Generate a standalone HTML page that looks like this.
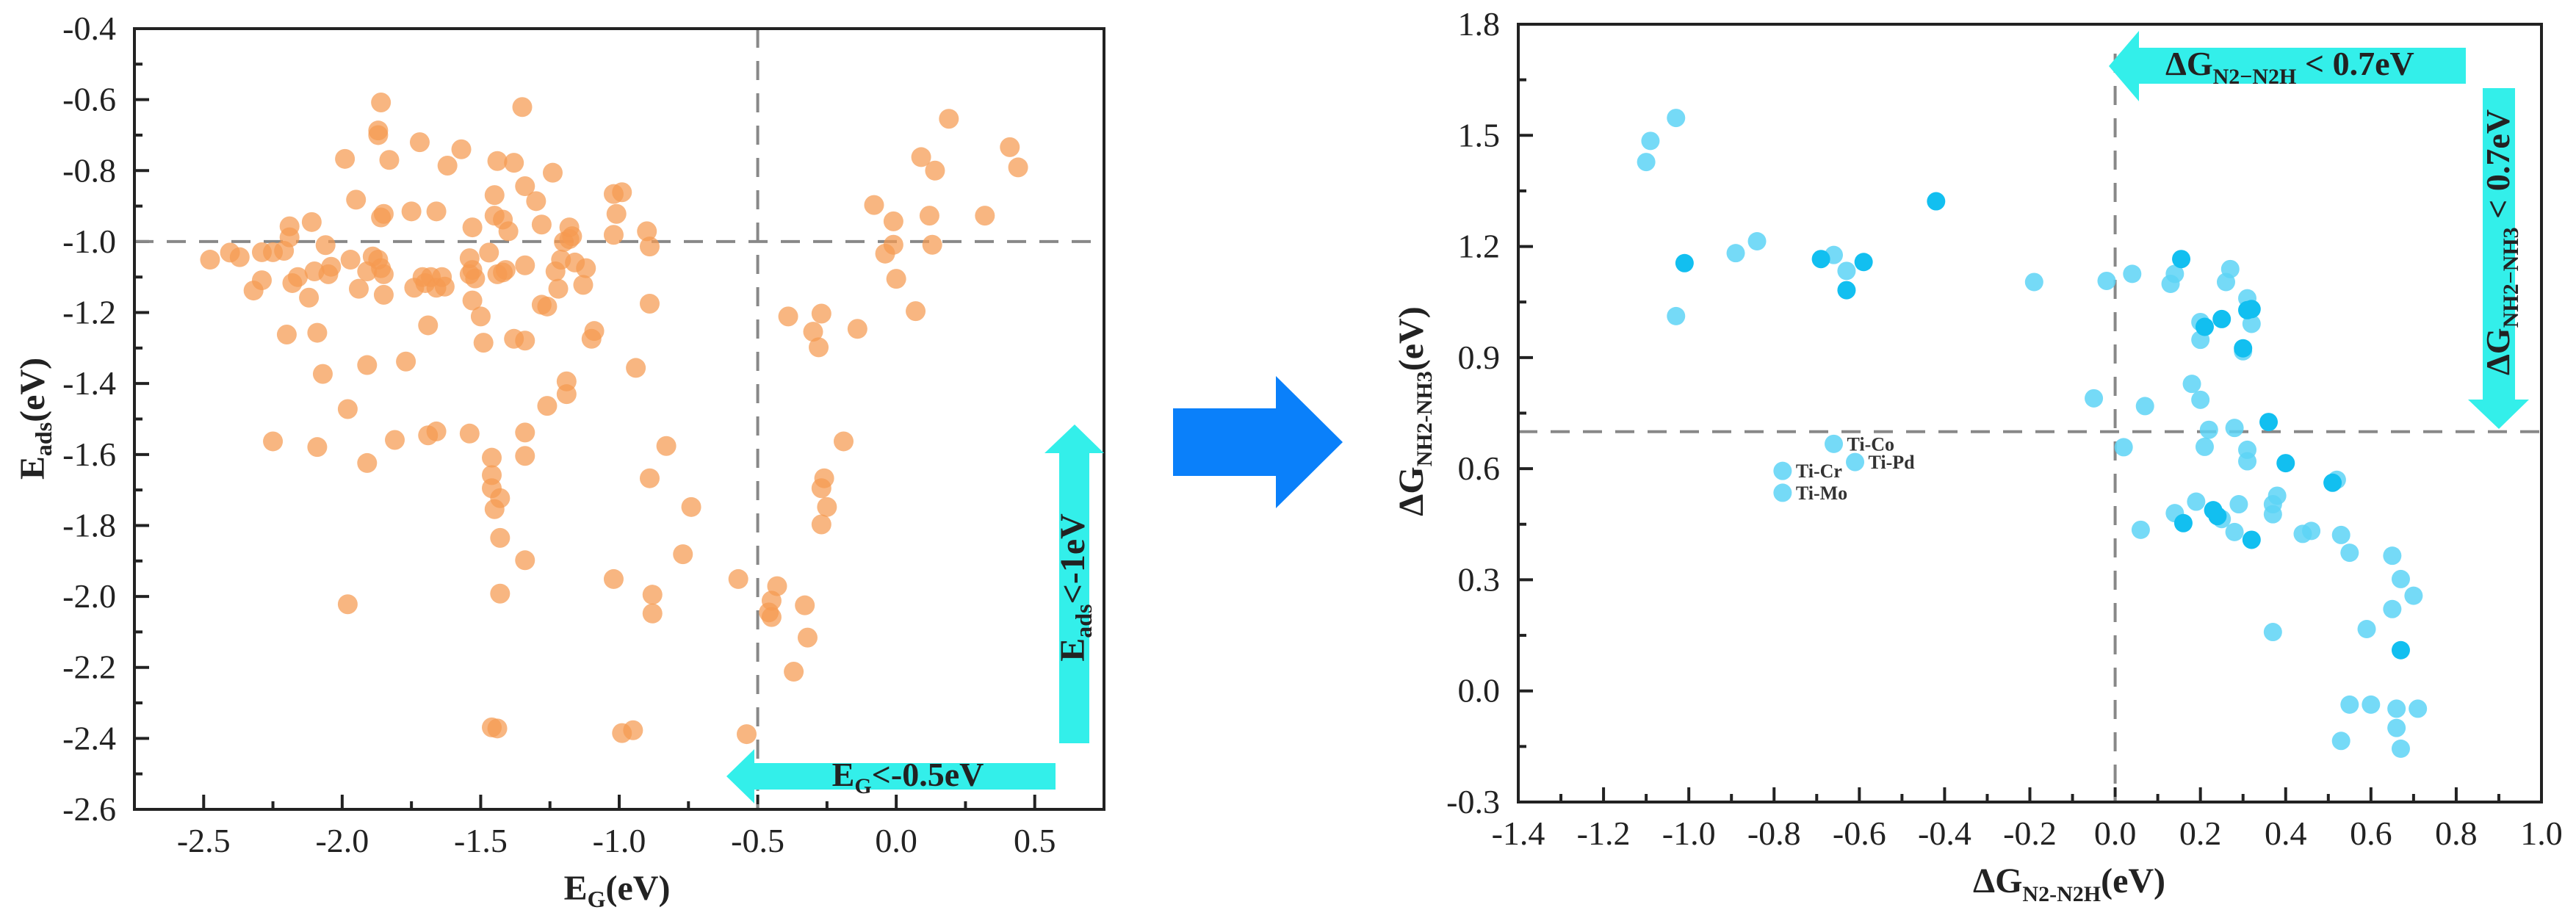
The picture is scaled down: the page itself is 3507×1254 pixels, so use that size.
<!DOCTYPE html>
<html><head><meta charset="utf-8"><style>
html,body{margin:0;padding:0;background:#fff;}
svg{display:block;font-family:"Liberation Serif","Times New Roman",serif;}
</style></head><body>
<svg id="s" width="3507" height="1254" viewBox="0 0 3507 1254" xmlns="http://www.w3.org/2000/svg" font-family="Liberation Serif, serif">
<g id="left"></g>
<g id="right"></g>
<polygon points="1597,556 1737,556 1737,512 1828,602 1737,692 1737,648 1597,648" fill="#0a80fa"/>
</svg>
<script>
// ---- left chart data ----
const leftX = [-2.477,-2.405,-2.37,-2.29,-2.25,-2.21,-2.19,-2.19,-2.11,-2.06,-2.29,-2.32,-2.18,-2.16,-2.12,-2.10,-2.05,-2.04,-2.20,-2.25,-2.09,-2.07,-2.09,-1.99,-1.95,-1.97,-1.94,-1.91,-1.89,-1.87,-1.86,-1.85,-1.85,-1.86,-1.87,-1.87,-1.83,-1.86,-1.85,-1.91,-1.98,-1.91,-1.98,-1.81,-1.77,-1.75,-1.72,-1.74,-1.71,-1.70,-1.68,-1.66,-1.64,-1.63,-1.69,-1.69,-1.66,-1.66,-1.62,-1.57,-1.53,-1.54,-1.54,-1.53,-1.52,-1.53,-1.50,-1.49,-1.54,-1.47,-1.45,-1.44,-1.45,-1.42,-1.40,-1.44,-1.41,-1.42,-1.38,-1.35,-1.34,-1.30,-1.28,-1.34,-1.38,-1.34,-1.34,-1.34,-1.46,-1.46,-1.46,-1.43,-1.45,-1.43,-1.34,-1.43,-1.46,-1.44,-1.24,-1.23,-1.22,-1.28,-1.26,-1.26,-1.20,-1.18,-1.17,-1.18,-1.21,-1.16,-1.12,-1.13,-1.19,-1.19,-1.10,-1.09,-1.02,-0.99,-1.01,-1.02,-0.90,-0.89,-0.89,-0.94,-0.89,-0.83,-0.74,-0.77,-1.02,-0.88,-0.88,-0.99,-0.95,-0.57,-0.54,-0.43,-0.45,-0.46,-0.45,-0.33,-0.32,-0.37,-0.39,-0.27,-0.30,-0.28,-0.14,-0.19,-0.26,-0.27,-0.25,-0.27,-0.08,-0.01,-0.04,-0.01,0.0,0.07,0.09,0.14,0.12,0.13,0.19,0.32,0.41,0.44];
const leftY = [-1.051,-1.031,-1.044,-1.03,-1.03,-1.026,-0.957,-0.988,-0.945,-1.01,-1.109,-1.138,-1.117,-1.10,-1.158,-1.084,-1.092,-1.071,-1.262,-1.563,-1.257,-1.373,-1.579,-0.767,-0.882,-1.051,-1.133,-1.084,-1.042,-1.051,-1.075,-1.092,-1.15,-0.608,-0.687,-0.70,-0.77,-0.932,-0.922,-1.348,-1.472,-1.624,-2.022,-1.559,-1.338,-0.915,-0.72,-1.13,-1.10,-1.117,-1.10,-1.13,-1.10,-1.127,-1.236,-1.546,-1.535,-0.915,-0.786,-0.74,-0.96,-1.047,-1.092,-1.08,-1.104,-1.166,-1.211,-1.285,-1.541,-1.031,-0.869,-0.773,-0.927,-0.938,-0.971,-1.092,-1.08,-1.087,-0.778,-0.621,-0.844,-0.886,-0.952,-1.067,-1.274,-1.279,-1.538,-1.604,-1.609,-1.658,-1.695,-1.723,-1.754,-1.835,-1.898,-1.992,-2.369,-2.372,-0.806,-1.084,-1.133,-1.178,-1.183,-1.463,-1.001,-0.96,-0.985,-0.993,-1.051,-1.059,-1.075,-1.122,-1.43,-1.394,-1.274,-1.252,-0.866,-0.861,-0.922,-0.981,-0.971,-1.014,-1.175,-1.356,-1.667,-1.576,-1.748,-1.881,-1.951,-1.995,-2.048,-2.385,-2.377,-1.951,-2.388,-1.971,-2.012,-2.045,-2.058,-2.025,-2.116,-2.212,-1.211,-1.203,-1.254,-1.298,-1.246,-1.563,-1.667,-1.695,-1.748,-1.797,-0.897,-0.943,-1.034,-1.009,-1.105,-1.196,-0.762,-0.80,-0.927,-1.009,-0.654,-0.927,-0.734,-0.791];
const leftXTicks = ["-2.5","-2.0","-1.5","-1.0","-0.5","0.0","0.5"];
const leftYTicks = ["-2.6","-2.4","-2.2","-2.0","-1.8","-1.6","-1.4","-1.2","-1.0","-0.8","-0.6","-0.4"];
// ---- right chart data ----
const rightLightX = [-1.10,-1.09,-1.03,-1.03,-0.89,-0.84,-0.66,-0.63,-0.19,-0.02,0.04,0.13,0.14,0.27,0.26,0.31,0.32,0.20,0.20,0.30,0.18,0.20,-0.05,0.07,0.22,0.28,0.02,0.21,0.31,0.31,0.52,0.38,0.37,0.19,0.29,0.25,0.14,0.37,0.06,0.28,0.44,0.46,0.53,0.55,0.65,0.67,0.70,0.65,0.59,0.37,0.55,0.60,0.66,0.71,0.66,0.53,0.67];
const rightLightY = [1.428,1.485,1.547,1.012,1.182,1.214,1.177,1.134,1.104,1.107,1.126,1.099,1.126,1.139,1.104,1.06,0.991,0.996,0.948,0.917,0.829,0.786,0.79,0.769,0.705,0.71,0.658,0.659,0.651,0.62,0.570,0.527,0.504,0.511,0.504,0.464,0.48,0.477,0.435,0.429,0.424,0.432,0.421,0.373,0.365,0.302,0.257,0.221,0.167,0.159,-0.037,-0.037,-0.048,-0.048,-0.1,-0.135,-0.156];
const rightDarkX = [-1.01,-0.69,-0.63,-0.59,-0.42,0.155,0.31,0.32,0.25,0.21,0.30,0.36,0.40,0.51,0.23,0.24,0.16,0.32,0.67];
const rightDarkY = [1.155,1.166,1.082,1.158,1.322,1.166,1.028,1.031,1.004,0.983,0.925,0.726,0.615,0.562,0.488,0.472,0.453,0.408,0.11];
const labelNames = ["Ti-Co","Ti-Pd","Ti-Cr","Ti-Mo"];
const labelX = [-0.66,-0.61,-0.78,-0.78];
const labelY = [0.667,0.618,0.594,0.535];
const rightXTicks = ["-1.4","-1.2","-1.0","-0.8","-0.6","-0.4","-0.2","0.0","0.2","0.4","0.6","0.8","1.0"];
const rightYTicks = ["-0.3","0.0","0.3","0.6","0.9","1.2","1.5","1.8"];

const NS="http://www.w3.org/2000/svg";
function mk(parent,tag,attrs){const e=document.createElementNS(NS,tag);for(const k in attrs)e.setAttribute(k,attrs[k]);parent.appendChild(e);return e;}

function axes(g,P,xmin,xmax,ymin,ymax,xt,yt,xminor,yminor){
  const sx=v=>P.l+(v-xmin)/(xmax-xmin)*(P.r-P.l);
  const sy=v=>P.b-(v-ymin)/(ymax-ymin)*(P.b-P.t);
  xt.forEach(t=>{const v=parseFloat(t);const x=sx(v);
    const tk=mk(g,'line',{x1:x,x2:x,y1:P.b,y2:P.b-20,stroke:'#222','stroke-width':4});
    
    
    const tx=mk(g,'text',{x:x,y:P.b+58,'text-anchor':'middle','font-size':46,fill:'#222'});tx.textContent=t;
    
    
    if(v+xminor<=xmax+1e-9){const xm=sx(v+xminor);
      const mt=mk(g,'line',{x1:xm,x2:xm,y1:P.b,y2:P.b-11,stroke:'#222','stroke-width':4});
      
      }
  });
  yt.forEach(t=>{const v=parseFloat(t);const y=sy(v);
    const tk=mk(g,'line',{x1:P.l,x2:P.l+20,y1:y,y2:y,stroke:'#222','stroke-width':4});
    
    
    const tx=mk(g,'text',{x:P.l-25,y:y+15,'text-anchor':'end','font-size':46,fill:'#222'});tx.textContent=t;
    
    
    if(v+yminor<=ymax+1e-9){const ym=sy(v+yminor);
      const mt=mk(g,'line',{x1:P.l,x2:P.l+11,y1:ym,y2:ym,stroke:'#222','stroke-width':4});
      
      }
  });
  return [sx,sy];
}

// LEFT
const gl=document.getElementById('left');
const PL={l:183,r:1503,t:39,b:1102};
const [lx,ly]=axes(gl,PL,-2.75,0.75,-2.6,-0.4,leftXTicks,leftYTicks,0.25,0.1);
{const d=mk(gl,'line',{x1:PL.l,x2:PL.r,y1:ly(-1.0),y2:ly(-1.0),stroke:'#888','stroke-width':4,'stroke-dasharray':'26,18'});


const v=mk(gl,'line',{x1:lx(-0.5),x2:lx(-0.5),y1:PL.t,y2:PL.b,stroke:'#888','stroke-width':4,'stroke-dasharray':'26,18'});

}
leftX.forEach((x,i)=>{const c=mk(gl,'circle',{cx:lx(x),cy:ly(leftY[i]),r:13.5,fill:'#f59a50','fill-opacity':0.72});

});
gl.insertAdjacentHTML('beforeend',`
<rect x="183" y="39" width="1320" height="1063" fill="none" stroke="#222" stroke-width="4"/>
<polygon points="1442,1012 1442,617 1422,617 1463,578 1503,617 1483,617 1483,1012" fill="#33efea"/>
<text transform="translate(1476,800) rotate(-90)" text-anchor="middle" font-size="48" font-weight="bold" fill="#222">E<tspan font-size="32" dy="10">ads</tspan><tspan dy="-10">&lt;-1eV</tspan></text>
<polygon points="1437,1039 1027,1039 1027,1020 989,1057 1027,1094 1027,1075 1437,1075" fill="#33efea"/>
<text x="1236" y="1070" text-anchor="middle" font-size="46" font-weight="bold" fill="#222">E<tspan font-size="30" dy="10">G</tspan><tspan dy="-10">&lt;-0.5eV</tspan></text>
<text x="840" y="1225" text-anchor="middle" font-size="48" font-weight="bold" fill="#222">E<tspan font-size="32" dy="10">G</tspan><tspan dy="-10">(eV)</tspan></text>
<text transform="translate(60,570) rotate(-90)" text-anchor="middle" font-size="48" font-weight="bold" fill="#222">E<tspan font-size="32" dy="10">ads</tspan><tspan dy="-10">(eV)</tspan></text>`);

// RIGHT
const gr=document.getElementById('right');
const PR={l:2067,r:3460,t:33,b:1092};
const [rx,ry]=axes(gr,PR,-1.4,1.0,-0.3,1.8,rightXTicks,rightYTicks,0.1,0.15);
{const d=mk(gr,'line',{x1:PR.l,x2:PR.r,y1:ry(0.7),y2:ry(0.7),stroke:'#888','stroke-width':4,'stroke-dasharray':'26,18'});


const v=mk(gr,'line',{x1:rx(0),x2:rx(0),y1:PR.t+40,y2:PR.b,stroke:'#888','stroke-width':4,'stroke-dasharray':'26,18'});

}
rightLightX.forEach((x,i)=>{const c=mk(gr,'circle',{cx:rx(x),cy:ry(rightLightY[i]),r:12.5,fill:'#5dd3f6','fill-opacity':0.85});

});
labelX.forEach((x,i)=>{const c=mk(gr,'circle',{cx:rx(x),cy:ry(labelY[i]),r:12.5,fill:'#5dd3f6','fill-opacity':0.85});


const t=mk(gr,'text',{x:rx(x)+18,y:ry(labelY[i])+9,'font-size':26,'font-weight':'bold',fill:'#333'});t.textContent=labelNames[i];

});
rightDarkX.forEach((x,i)=>{const c=mk(gr,'circle',{cx:rx(x),cy:ry(rightDarkY[i]),r:12.5,fill:'#12bff0'});

});
gr.insertAdjacentHTML('beforeend',`
<rect x="2067" y="33" width="1393" height="1059" fill="none" stroke="#222" stroke-width="4"/>
<polygon points="3357,65 2912,65 2912,42 2871,90 2912,138 2912,114 3357,114" fill="#33efea"/>
<text x="2948" y="102" font-size="46" font-weight="bold" fill="#222">ΔG<tspan font-size="30" dy="12">N2−N2H</tspan><tspan dy="-12"> &lt; 0.7eV</tspan></text>
<polygon points="3380,120 3424,120 3424,544 3443,544 3402,584 3360,544 3380,544" fill="#33efea"/>
<text transform="translate(3416,330) rotate(-90)" text-anchor="middle" font-size="46" font-weight="bold" fill="#222">ΔG<tspan font-size="30" dy="12">NH2−NH3</tspan><tspan dy="-12"> &lt; 0.7eV</tspan></text>
<text x="2817" y="1215" text-anchor="middle" font-size="48" font-weight="bold" fill="#222">ΔG<tspan font-size="30" dy="12">N2-N2H</tspan><tspan dy="-12">(eV)</tspan></text>
<text transform="translate(1937,560) rotate(-90)" text-anchor="middle" font-size="48" font-weight="bold" fill="#222">ΔG<tspan font-size="30" dy="12">NH2-NH3</tspan><tspan dy="-12">(eV)</tspan></text>`);
</script>
</body></html>
